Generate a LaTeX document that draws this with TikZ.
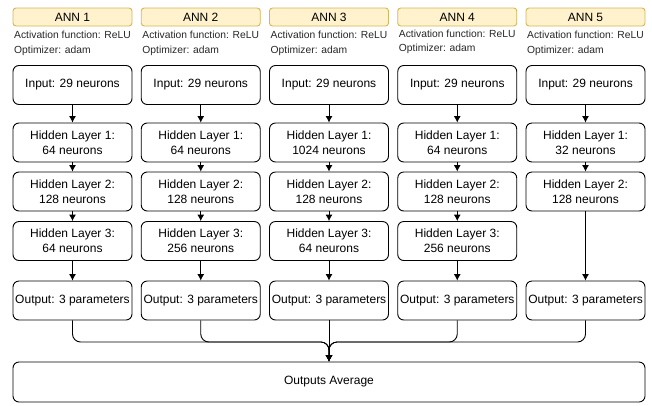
\documentclass[tikz,border=0pt]{standalone}
\usepackage{fontspec}
\setmainfont{Liberation Sans}
\usetikzlibrary{positioning,arrows.meta}
\definecolor{headfill}{HTML}{FFF2CC}
\definecolor{headdraw}{HTML}{D6B656}

\begin{document}
\begin{tikzpicture}[x=1pt,y=-1pt,
						>={Latex[length=6.5pt,width=7pt]},
						boxnode/.style={draw=black, line width=0.9pt, rounded corners=6pt, fill=white, minimum width=119pt, minimum height=39pt, inner sep=0pt, align=center, font=\fontsize{12}{15}\selectfont},
						headnode/.style={draw=headdraw, fill=headfill, line width=0.9pt, rounded corners=3pt, minimum width=119pt, minimum height=18pt, inner sep=0pt, font=\fontsize{12}{14}\selectfont},
						infonode/.style={anchor=west, inner sep=0pt, text=black!85, font=\fontsize{10.3}{12}\selectfont},
						conn/.style={line width=0.9pt, ->},
						]
						\useasboundingbox (0,0) rectangle (652,405);
						%Headers
						\node[headnode]   (ann1)   at  (72.5,17)     {ANN 1};
						\node[headnode]   (ann2)   at  (200.75,17)   {ANN 2};
						\node[headnode]   (ann3)   at  (329,17)      {ANN 3};
						\node[headnode]   (ann4)   at  (457.25,17)   {ANN 4};
						\node[headnode]   (ann5)   at  (585.5,17)    {ANN 5};
						\node[infonode]   (act1)   at  (14,35)       {Activation function: ReLU};
						\node[infonode]   (opt1)   at  (14,51)       {Optimizer: adam};
						\node[infonode]   (act2)   at  (142.25,35)   {Activation function: ReLU};
						\node[infonode]   (opt2)   at  (142.25,51)   {Optimizer: adam};
						\node[infonode]   (act3)   at  (270.5,35)    {Activation function: ReLU};
						\node[infonode]   (opt3)   at  (270.5,51)    {Optimizer: adam};
						\node[infonode]   (act4)   at  (398.75,34)   {Activation function: ReLU};
						\node[infonode]   (opt4)   at  (398.75,49)   {Optimizer: adam};
						\node[infonode]   (act5)   at  (527,35)      {Activation function: ReLU};
						\node[infonode]   (opt5)   at  (527,51)      {Optimizer: adam};
						
						%Nodes
						\node[boxnode]    (in1)    at  (72.5,85)     {Input: 29 neurons};
						\node[boxnode]    (ha1)    at  (72.5,142.5)  {Hidden Layer 1:\\64 neurons};
						\node[boxnode]    (hb1)    at  (72.5,191.5)  {Hidden Layer 2:\\128 neurons};
						\node[boxnode]    (hc1)    at  (72.5,241)    {Hidden Layer 3:\\64 neurons};
						\node[boxnode]    (out1)   at  (72.5,300.5)  {Output: 3 parameters};
						
						\node[boxnode]    (in2)    at  (200.75,85)   {Input: 29 neurons};
						\node[boxnode]    (ha2)    at  (200.75,142.5) {Hidden Layer 1:\\64 neurons};
						\node[boxnode]    (hb2)    at  (200.75,191.5) {Hidden Layer 2:\\128 neurons};
						\node[boxnode]    (hc2)    at  (200.75,241)  {Hidden Layer 3:\\256 neurons};
						\node[boxnode]    (out2)   at  (200.75,300.5) {Output: 3 parameters};
						
						\node[boxnode]    (in3)    at  (329,85)      {Input: 29 neurons};
						\node[boxnode]    (ha3)    at  (329,142.5)   {Hidden Layer 1:\\1024 neurons};
						\node[boxnode]    (hb3)    at  (329,191.5)   {Hidden Layer 2:\\128 neurons};
						\node[boxnode]    (hc3)    at  (329,241)     {Hidden Layer 3:\\64 neurons};
						\node[boxnode]    (out3)   at  (329,300.5)   {Output: 3 parameters};
						
						\node[boxnode]    (in4)    at  (457.25,85)   {Input: 29 neurons};
						\node[boxnode]    (ha4)    at  (457.25,142.5) {Hidden Layer 1:\\64 neurons};
						\node[boxnode]    (hb4)    at  (457.25,191.5) {Hidden Layer 2:\\128 neurons};
						\node[boxnode]    (hc4)    at  (457.25,241)  {Hidden Layer 3:\\256 neurons};
						\node[boxnode]    (out4)   at  (457.25,300.5) {Output: 3 parameters};
						
						\node[boxnode]    (in5)    at  (585.5,85)    {Input: 29 neurons};
						\node[boxnode]    (ha5)    at  (585.5,142.5) {Hidden Layer 1:\\32 neurons};
						\node[boxnode]    (hb5)    at  (585.5,191.5) {Hidden Layer 2:\\128 neurons};
						\node[boxnode]    (out5)   at  (585.5,300.5) {Output: 3 parameters};
						
						\node[boxnode, minimum width=632pt, minimum height=40pt] (avg) at (329,382) {Outputs Average};
						\coordinate       (mrg)    at  (329,342);
						
						%Lines
						\draw[conn] (in1) -- (ha1);
						\draw[conn] (ha1) -- (hb1);
						\draw[conn] (hb1) -- (hc1);
						\draw[conn] (hc1) -- (out1);
						
						\draw[conn] (in2) -- (ha2);
						\draw[conn] (ha2) -- (hb2);
						\draw[conn] (hb2) -- (hc2);
						\draw[conn] (hc2) -- (out2);
						
						\draw[conn] (in3) -- (ha3);
						\draw[conn] (ha3) -- (hb3);
						\draw[conn] (hb3) -- (hc3);
						\draw[conn] (hc3) -- (out3);
						
						\draw[conn] (in4) -- (ha4);
						\draw[conn] (ha4) -- (hb4);
						\draw[conn] (hb4) -- (hc4);
						\draw[conn] (hc4) -- (out4);
						
						\draw[conn] (in5) -- (ha5);
						\draw[conn] (ha5) -- (hb5);
						\draw[conn] (hb5) -- (out5);
						
						\draw[conn, rounded corners=8pt] (out1.south) |- (mrg) -- (avg.north);
						\draw[conn, rounded corners=8pt] (out2.south) |- (mrg) -- (avg.north);
						\draw[conn, rounded corners=8pt] (out4.south) |- (mrg) -- (avg.north);
						\draw[conn, rounded corners=8pt] (out5.south) |- (mrg) -- (avg.north);
						\draw[conn] (out3) -- (avg);
					\end{tikzpicture}
\end{document}
